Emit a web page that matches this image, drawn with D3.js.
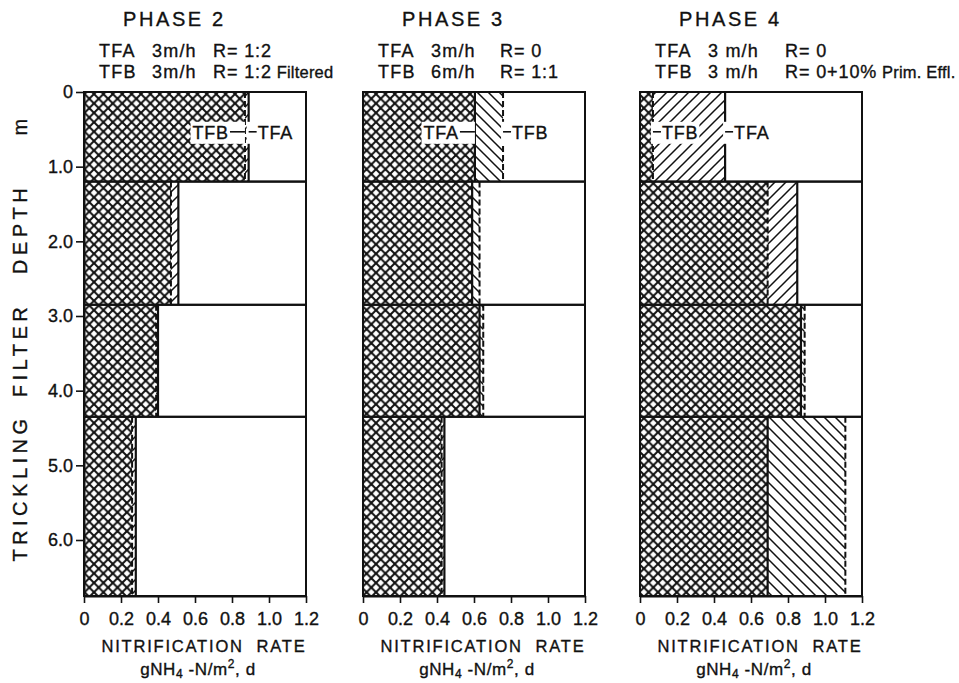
<!DOCTYPE html>
<html>
<head>
<meta charset="utf-8">
<script src="https://cdn.jsdelivr.net/npm/d3@7"></script>
<style>
  body { margin: 0; background: #fff; }
  svg text { font-family: "Liberation Sans", Arial, sans-serif; fill: #111; stroke: #111; stroke-width: 0.35px; }
</style>
</head>
<body>
<svg id="chart" width="959" height="683"></svg>
<script>
// ---- data -------------------------------------------------------------
const phaseTitles = ["PHASE 2", "PHASE 3", "PHASE 4"];
// operating conditions per phase: [hydraulic load, recirculation, note]
const tfaConditions = [["3m/h", "R= 1:2", ""], ["3m/h", "R= 0", ""], ["3 m/h", "R= 0", ""]];
const tfbConditions = [["3m/h", "R= 1:2", "Filtered"], ["6m/h", "R= 1:1", ""], ["3 m/h", "R= 0+10%", "Prim. Effl."]];
// filter layer boundaries (depth, m)
const layerBounds = [0, 1.2, 2.85, 4.35, 6.75];
// nitrification rate per layer, g NH4-N/m2,d
const tfaRates = [
  [0.89, 0.51, 0.40, 0.28],
  [0.605, 0.59, 0.63, 0.44],
  [0.46, 0.85, 0.87, 0.69]
];
const tfbRates = [
  [0.87, 0.47, 0.39, 0.26],
  [0.757, 0.63, 0.65, 0.425],
  [0.07, 0.69, 0.89, 1.11]
];
const rateTicks = [0, 0.2, 0.4, 0.6, 0.8, 1.0, 1.2];
const depthTicks = [0, 1, 2, 3, 4, 5, 6];

// ---- layout -----------------------------------------------------------
const panelLeft = [84, 363, 640];
const panelWidth = 222;
const rColumn = [129, 137, 145];
const svg = d3.select("#chart");
const y = d3.scaleLinear().domain([0, 6.75]).range([92, 596]);
const fmt = d => d === 0 ? "0" : d.toFixed(1);

// ---- hatch patterns ---------------------------------------------------
const defs = svg.append("defs");
function addPattern(id, size, dirs, sw) {
  const p = defs.append("pattern")
    .attr("id", id).attr("patternUnits", "userSpaceOnUse")
    .attr("width", size).attr("height", size);
  p.append("rect").attr("width", size).attr("height", size).attr("fill", "#fff");
  const s = size;
  dirs.forEach(dir => {
    const d = dir === "/"
      ? `M0,${s} L${s},0 M${-s / 2},${s / 2} L${s / 2},${-s / 2} M${s / 2},${s * 1.5} L${s * 1.5},${s / 2}`
      : `M0,0 L${s},${s} M${-s / 2},${s / 2} L${s / 2},${s * 1.5} M${s / 2},${-s / 2} L${s * 1.5},${s / 2}`;
    p.append("path").attr("d", d).attr("stroke", "#111").attr("stroke-width", sw).attr("fill", "none");
  });
}
addPattern("cross", 9.4, ["/", "\\"], 2.0);
addPattern("fwd", 11, ["/"], 1.5);
addPattern("back", 11, ["\\"], 1.5);

// ---- panels -----------------------------------------------------------
phaseTitles.forEach((title, p) => {
  const left = panelLeft[p];
  const x = d3.scaleLinear().domain([0, 1.2]).range([left, left + panelWidth]);
  const g = svg.append("g");

  // titles
  g.append("text").attr("x", left + 39).attr("y", 26)
    .style("font-size", "20px").style("letter-spacing", "2.6px").text(title);

  [["TFA", tfaConditions[p]], ["TFB", tfbConditions[p]]].forEach(([name, cond], k) => {
    const by = 56.5 + k * 21.5;
    g.append("text").attr("x", left + 15).attr("y", by)
      .style("font-size", "18px").style("letter-spacing", "1.2px").text(name);
    g.append("text").attr("x", left + 68).attr("y", by)
      .style("font-size", "18px").style("letter-spacing", "1.2px").attr("xml:space", "preserve").text(cond[0]);
    const t = g.append("text").attr("x", left + rColumn[p]).attr("y", by)
      .style("font-size", "18px").style("letter-spacing", "0.9px").attr("xml:space", "preserve");
    t.append("tspan").text(cond[1]);
    if (cond[2]) t.append("tspan").style("letter-spacing", "0.2px").style("font-size", "16.5px").text(" " + cond[2]);
  });

  // layers
  const layers = tfaRates[p].map((a, i) => ({
    a, b: tfbRates[p][i], top: layerBounds[i], bot: layerBounds[i + 1]
  }));

  layers.forEach(L => {
    const lo = Math.min(L.a, L.b), hi = Math.max(L.a, L.b);
    const y0 = y(L.top), y1 = y(L.bot);
    g.append("rect").attr("x", x(0)).attr("y", y0).attr("width", x(lo) - x(0)).attr("height", y1 - y0)
      .attr("fill", "url(#cross)");
    g.append("rect").attr("x", x(lo)).attr("y", y0).attr("width", x(hi) - x(lo)).attr("height", y1 - y0)
      .attr("fill", L.a > L.b ? "url(#fwd)" : "url(#back)");
  });
  layers.forEach(L => {
    const y0 = y(L.top), y1 = y(L.bot);
    g.append("rect").attr("x", x(0)).attr("y", y0).attr("width", x(1.2) - x(0)).attr("height", y1 - y0)
      .attr("fill", "none").attr("stroke", "#111").attr("stroke-width", 2);
    g.append("line").attr("x1", x(L.a)).attr("x2", x(L.a)).attr("y1", y0).attr("y2", y1)
      .attr("stroke", "#111").attr("stroke-width", 2.2);
    g.append("line").attr("x1", x(L.b)).attr("x2", x(L.b)).attr("y1", y0).attr("y2", y1)
      .attr("stroke", "#111").attr("stroke-width", 2).attr("stroke-dasharray", "6,3");
  });

  // callouts on the top layer
  const L0 = layers[0];
  const ly = (y(L0.top) + y(L0.bot)) / 2 - 5;
  const items = [{ name: "TFA", v: L0.a }, { name: "TFB", v: L0.b }].sort((m, n) => m.v - n.v);
  items.forEach((it, k) => {
    const xv = x(it.v);
    const leftSide = k === 0 && xv - x(0) > 50;
    const cg = g.append("g");
    const bg = cg.append("rect").attr("fill", "#fff");
    const txt = cg.append("text").attr("y", ly + 7)
      .style("font-size", "18px").style("letter-spacing", "0.8px").text(it.name);
    let lx1, lx2;
    if (leftSide) {
      txt.attr("x", xv - 16).attr("text-anchor", "end");
      lx1 = xv - 15; lx2 = xv;
    } else {
      txt.attr("x", xv + 9);
      lx1 = xv; lx2 = xv + 8;
    }
    const bb = txt.node().getBBox();
    const bx0 = Math.min(bb.x, lx1) - 2, bx1 = Math.max(bb.x + bb.width, lx2 - 1) + 1;
    bg.attr("x", bx0).attr("y", bb.y - 1).attr("width", bx1 - bx0).attr("height", bb.height + 2);
    cg.append("line").attr("x1", lx1).attr("x2", lx2).attr("y1", ly).attr("y2", ly)
      .attr("stroke", "#111").attr("stroke-width", 1.6);
  });

  // rate axis
  const ax = g.append("g").attr("transform", `translate(0,${y(6.75)})`)
    .call(d3.axisBottom(x).tickValues(rateTicks).tickFormat(fmt).tickSize(7).tickSizeOuter(0).tickPadding(9));
  ax.select(".domain").attr("stroke", "#111").attr("stroke-width", 2);
  ax.selectAll(".tick line").attr("stroke", "#111").attr("stroke-width", 1.6);
  ax.selectAll(".tick text").style("font-size", "18px").attr("font-family", null);

  g.append("text").attr("x", left + panelWidth / 2 + 9).attr("y", 652).attr("text-anchor", "middle")
    .style("font-size", "16.5px").style("letter-spacing", "1.8px").attr("xml:space", "preserve")
    .text("NITRIFICATION  RATE");
  const u = g.append("text").attr("x", left + panelWidth / 2 + 3).attr("y", 675).attr("text-anchor", "middle")
    .style("font-size", "17px").style("letter-spacing", "0.6px");
  u.append("tspan").text("gNH");
  u.append("tspan").attr("dy", 3).style("font-size", "12px").text("4");
  u.append("tspan").attr("dy", -3).text(" -N/m");
  u.append("tspan").attr("dy", -7).style("font-size", "12px").text("2");
  u.append("tspan").attr("dy", 7).text(", d");
});

// ---- depth axis -------------------------------------------------------
const ay = svg.append("g").attr("transform", `translate(${panelLeft[0]},0)`)
  .call(d3.axisLeft(y).tickValues(depthTicks).tickFormat(fmt).tickSize(8).tickSizeOuter(0).tickPadding(3));
ay.select(".domain").attr("stroke", "#111").attr("stroke-width", 2);
ay.selectAll(".tick line").attr("stroke", "#111").attr("stroke-width", 1.6);
ay.selectAll(".tick text").style("font-size", "18px").attr("font-family", null);

const yl = svg.append("g").attr("transform", "translate(27,0) rotate(-90)");
[["TRICKLING", 488], ["FILTER", 350], ["DEPTH", 229], ["m", 125]].forEach(([w, c]) => {
  yl.append("text").attr("x", -c).attr("y", 0).attr("text-anchor", "middle")
    .style("font-size", "20px").style("letter-spacing", "4.5px").text(w);
});
</script>
</body>
</html>
